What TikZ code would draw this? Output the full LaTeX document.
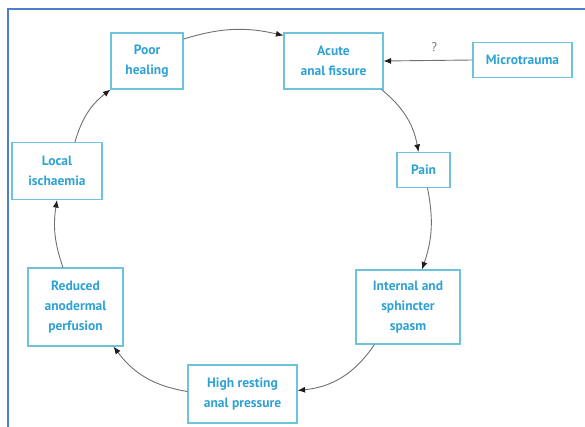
\documentclass[tikz,border=0pt]{standalone}
\usepackage{fontspec}
\usepackage{xcolor}
\usepackage{tikz}
\usetikzlibrary{arrows.meta}
\newfontfamily\boxfont{PT Sans}
\definecolor{cText}{HTML}{2FA2D4}
\definecolor{cEdge}{HTML}{6EC3DC}
\definecolor{cFrame}{HTML}{4F7FCC}
\definecolor{cLine}{HTML}{707070}
\definecolor{cHead}{HTML}{1E1E1E}
\tikzset{
  box/.style   = {draw=cEdge, line width=1.1pt, align=center, inner sep=2pt,
                  text=cText, font=\boxfont\bfseries\fontsize{13.5}{20}\selectfont},
  cyc/.style   = {draw=cLine, line width=0.9pt,
                  -{Latex[length=7.5pt,width=6pt,color=cHead]}},
  qmark/.style = {font=\boxfont\fontsize{12.5}{14}\selectfont, text=cLine},
  frameline/.style = {draw=cFrame, line width=1.2pt},
}
\begin{document}
\begin{tikzpicture}[x=1pt, y=1pt]
  \useasboundingbox (0,0) rectangle (585,-427);
  \draw[frameline] (8,-427) -- (8,-9) -- (585,-9);
  \node[box, minimum width=72pt,  minimum height=56pt] (poor)  at (147,-61)   {Poor\\healing};
  \node[box, minimum width=99pt,  minimum height=56pt] (acute) at (333.5,-61) {Acute\\anal fissure};
  \node[box, minimum width=99pt,  minimum height=35pt] (micro) at (522.5,-60) {Microtrauma};
  \node[box, minimum width=53pt,  minimum height=35pt] (pain)  at (423.5,-170) {Pain};
  \node[box, minimum width=104pt, minimum height=74pt] (spasm) at (408,-307)  {Internal and\\sphincter\\spasm};
  \node[box, minimum width=109pt, minimum height=58pt] (press) at (242.5,-394) {High resting\\anal pressure};
  \node[box, minimum width=95pt,  minimum height=78pt] (perf)  at (75.5,-307)  {Reduced\\anodermal\\perfusion};
  \node[box, minimum width=90pt,  minimum height=57pt] (isch)  at (57,-171)    {Local\\ischaemia};
  % the vicious circle
  \draw[cyc] (poor.31) to[bend left=15] (acute.153);
  \draw[cyc] ([xshift=-2pt]acute.south east) to[bend left=20] ([xshift=-5pt]pain.north);
  \draw[cyc] ([xshift=4pt]pain.south) to[bend left=15] ([xshift=14pt]spasm.north);
  \draw[cyc] ([xshift=19pt]spasm.south west) to[bend left=25] ([yshift=3.5pt]press.east);
  \draw[cyc] ([yshift=2.5pt]press.west) to[bend left=22] ([xshift=-10pt]perf.south east);
  \draw[cyc] ([xshift=-12.5pt]perf.north) to[bend left=14] (isch.south);
  \draw[cyc] ([xshift=18pt]isch.north) to[bend left=18] (poor.south west);
  % trigger
  \draw[cyc] (micro.west) -- node[qmark, above=5pt, pos=0.43] (q) {?} (acute.east);
\end{tikzpicture}
\end{document}
